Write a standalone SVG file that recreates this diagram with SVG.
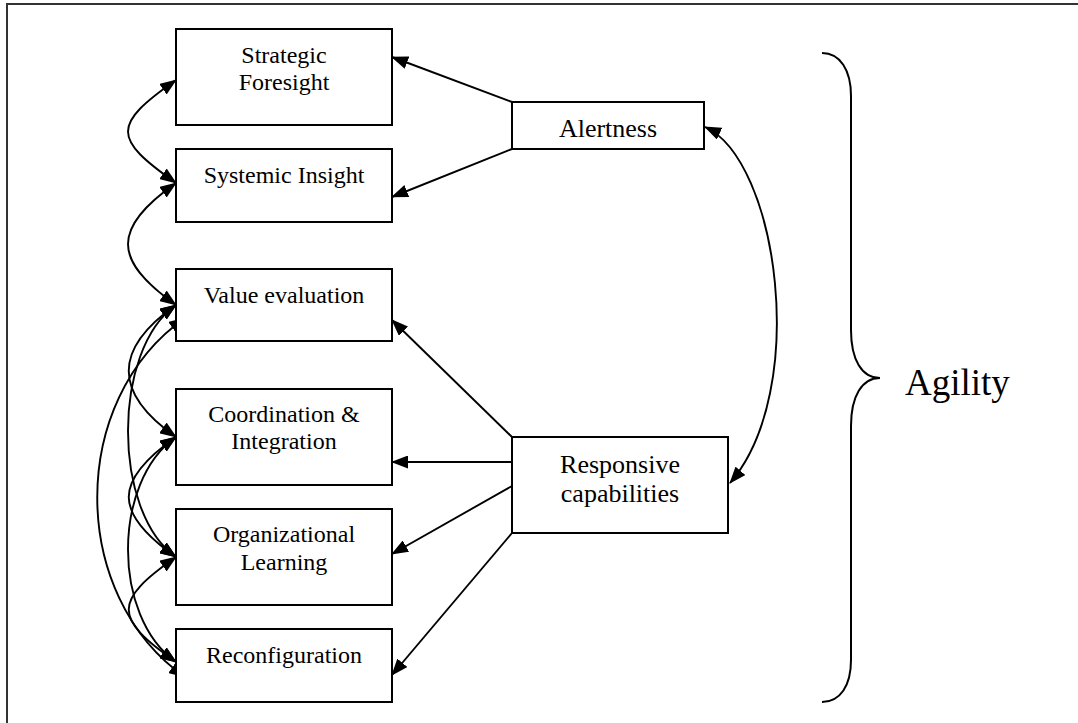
<svg xmlns="http://www.w3.org/2000/svg" width="1078" height="723" viewBox="0 0 1078 723">
<defs>
<style>
.box{fill:#fff;stroke:#000;stroke-width:2}
.t{font-family:"Liberation Serif","Times New Roman",serif;font-size:24px;fill:#000;text-anchor:middle}
.tr{font-size:26px}
.c{fill:none;stroke:#000;stroke-width:1.9}
</style>
<marker id="ah" viewBox="0 0 17 13" refX="16" refY="6.5" markerWidth="17" markerHeight="13" markerUnits="userSpaceOnUse" orient="auto-start-reverse">
<path d="M0,0 L17,6.5 L0,13 z" fill="#000"/>
</marker>
</defs>
<rect width="1078" height="723" fill="#fff"/>
<path d="M7,723 L7,4 L1078,4" fill="none" stroke="#333" stroke-width="2"/>

<g id="connectors">
<path class="c" d="M512,102 L392,57" marker-end="url(#ah)"/>
<path class="c" d="M512,149 L392,197" marker-end="url(#ah)"/>
<path class="c" d="M512,437 L392,320" marker-end="url(#ah)"/>
<path class="c" d="M512,462 L392,462" marker-end="url(#ah)"/>
<path class="c" d="M512,486 L392,554" marker-end="url(#ah)"/>
<path class="c" d="M512,533 L392,675" marker-end="url(#ah)"/>
<path class="c" d="M705,127 C778,160 810,390 730,483" marker-start="url(#ah)" marker-end="url(#ah)"/>
<path class="c" d="M176,80 C112,125 112,138 176,183" marker-start="url(#ah)" marker-end="url(#ah)"/>
<path class="c" d="M176,183 C112,228 112,260 176,305" marker-start="url(#ah)" marker-end="url(#ah)"/>
<path class="c" d="M176,305 C113,349 113,393 176,437" marker-start="url(#ah)" marker-end="url(#ah)"/>
<path class="c" d="M176,305 C112,350 112,512 176,557" marker-start="url(#ah)" marker-end="url(#ah)"/>
<path class="c" d="M185,318 C68,400 68,595 185,677" marker-start="url(#ah)" marker-end="url(#ah)"/>
<path class="c" d="M176,437 C113,481 113,513 176,557" marker-start="url(#ah)" marker-end="url(#ah)"/>
<path class="c" d="M176,437 C112,482 112,617 176,662" marker-start="url(#ah)" marker-end="url(#ah)"/>
<path class="c" d="M176,557 C113,601 113,618 176,662" marker-start="url(#ah)" marker-end="url(#ah)"/>
</g>

<g id="strategic-foresight">
<rect class="box" x="176" y="29" width="216" height="96"/>
<text class="t" x="284" y="63">Strategic</text>
<text class="t" x="284" y="90">Foresight</text>
</g>
<g id="systemic-insight">
<rect class="box" x="176" y="149" width="216" height="73"/>
<text class="t" x="284" y="183">Systemic Insight</text>
</g>
<g id="value-evaluation">
<rect class="box" x="176" y="269" width="216" height="72"/>
<text class="t" x="284" y="303">Value evaluation</text>
</g>
<g id="coordination-integration">
<rect class="box" x="176" y="389" width="216" height="96"/>
<text class="t" x="284" y="422">Coordination &amp;</text>
<text class="t" x="284" y="449">Integration</text>
</g>
<g id="organizational-learning">
<rect class="box" x="176" y="509" width="216" height="96"/>
<text class="t" x="284" y="542">Organizational</text>
<text class="t" x="284" y="570">Learning</text>
</g>
<g id="reconfiguration">
<rect class="box" x="176" y="629" width="216" height="73"/>
<text class="t" x="284" y="663">Reconfiguration</text>
</g>
<g id="alertness">
<rect class="box" x="512" y="102" width="192" height="47"/>
<text class="t tr" x="608" y="137">Alertness</text>
</g>
<g id="responsive-capabilities">
<rect class="box" x="512" y="437" width="216" height="96"/>
<text class="t tr" x="620" y="473">Responsive</text>
<text class="t tr" x="620" y="502">capabilities</text>
</g>
<g id="agility">
<path d="M822,53 C840,53 851,70 851,96 L851,330 C851,360 862,378 880,378 C862,378 851,396 851,426 L851,660 C851,686 840,702 822,702" fill="none" stroke="#000" stroke-width="2"/>
<text x="905" y="395" style="font-family:'Liberation Serif','Times New Roman',serif;font-size:37px;fill:#000">Agility</text>
</g>
</svg>
